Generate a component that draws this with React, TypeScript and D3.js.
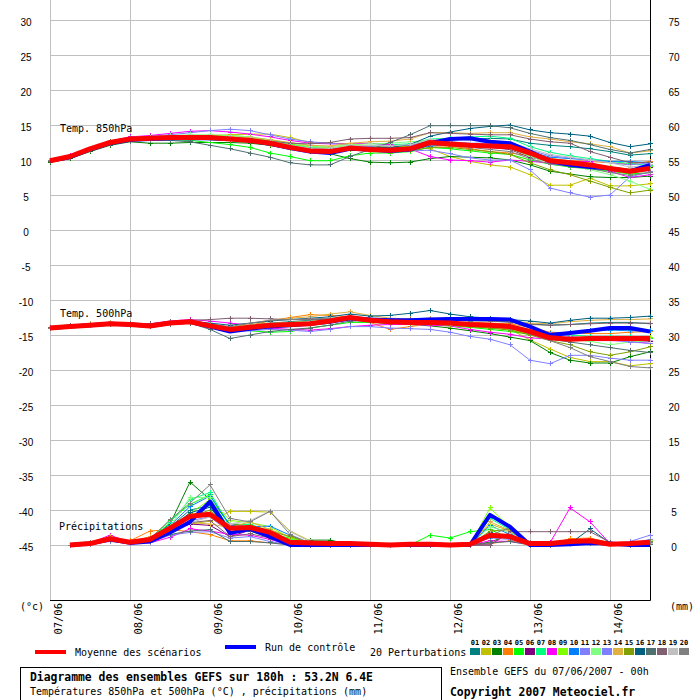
import * as d3 from 'd3'
import { useEffect, useRef } from 'react'

// dates on the time axis (one gridline every 24h)
const DAYS = ['07/06', '08/06', '09/06', '10/06', '11/06', '12/06', '13/06', '14/06']
const LEFT_TICKS = [30, 25, 20, 15, 10, 5, 0, -5, -10, -15, -20, -25, -30, -35, -40, -45]
const RIGHT_TICKS = [75, 70, 65, 60, 55, 50, 45, 40, 35, 30, 25, 20, 15, 10, 5, 0]
// forecast steps, hours
const HOURS = [0, 6, 12, 18, 24, 30, 36, 42, 48, 54, 60, 66, 72, 78, 84, 90, 96, 102, 108, 114, 120, 126, 132, 138, 144, 150, 156, 162, 168, 174, 180]

const MEMBER_COLORS = [
  '#008080', '#c0c000', '#008000', '#ff8000', '#00ff00', '#800080', '#00ff80', '#ff00ff', '#80ff00', '#0080ff',
  '#8080ff', '#80ff80', '#7f7fff', '#e0b040', '#80a000', '#006080', '#507070', '#806070', '#c0c0c0', '#808080',
]

// Temperature 850hPa (°C), 0h..180h
const T850_MEAN = [9.9, 10.5, 11.6, 12.5, 13.0, 13.1, 13.2, 13.2, 13.2, 13.0, 12.8, 12.4, 11.8, 11.3, 11.2, 11.7, 11.5, 11.4, 11.6, 12.5, 12.3, 12.1, 12.0, 11.9, 11.0, 9.9, 9.6, 9.3, 8.8, 8.4, 8.8]
const T850_CONTROL = [9.9, 10.4, 11.5, 12.4, 12.9, 13.0, 13.1, 13.1, 13.1, 13.0, 12.8, 12.3, 11.7, 11.2, 11.0, 11.6, 11.5, 11.3, 11.5, 12.4, 13.0, 13.1, 12.6, 12.4, 11.2, 9.8, 9.3, 9.0, 8.8, 8.4, 9.3]
const T850_MEMBERS = [
  [9.8, 10.3, 11.3, 12.3, 12.8, 13.0, 13.0, 13.0, 12.9, 12.8, 12.6, 12.2, 11.8, 11.4, 11.3, 11.8, 11.9, 11.8, 12.0, 12.8, 13.0, 13.0, 13.1, 13.0, 12.4, 12.1, 11.9, 11.6, 11.2, 10.7, 10.9],
  [9.9, 10.4, 11.4, 12.4, 12.9, 13.1, 13.3, 13.4, 13.5, 13.6, 13.7, 13.7, 13.2, 12.5, 12.4, 12.3, 12.0, 11.8, 11.9, 11.6, 10.5, 9.8, 9.3, 9.0, 7.9, 6.4, 6.4, 7.4, 6.3, 6.3, 6.6],
  [9.7, 10.2, 11.2, 12.1, 12.6, 12.4, 12.4, 12.5, 12.5, 12.5, 12.4, 12.1, 11.6, 11.2, 10.9, 10.2, 9.7, 9.6, 9.7, 10.2, 10.5, 10.4, 10.3, 10.0, 9.3, 8.4, 8.0, 7.6, 7.5, 7.5, 7.7],
  [9.9, 10.4, 11.5, 12.4, 12.9, 13.1, 13.2, 13.2, 13.1, 13.0, 12.8, 12.5, 12.0, 11.7, 11.6, 11.8, 11.7, 11.5, 11.6, 12.0, 12.0, 11.6, 11.2, 11.0, 10.6, 10.2, 9.9, 9.8, 9.6, 9.4, 9.8],
  [9.9, 10.4, 11.4, 12.3, 12.8, 12.9, 12.9, 12.8, 12.5, 12.2, 11.8, 11.0, 10.5, 9.9, 9.9, 10.6, 11.0, 11.0, 11.2, 11.8, 11.6, 11.3, 11.0, 10.8, 10.0, 9.4, 9.0, 8.7, 8.4, 8.0, 8.2],
  [9.9, 10.4, 11.4, 12.4, 12.9, 13.1, 13.2, 13.2, 13.2, 13.1, 12.9, 12.5, 12.0, 11.6, 11.5, 11.8, 11.8, 11.7, 11.8, 12.3, 12.3, 12.0, 11.8, 11.5, 10.4, 9.8, 9.5, 9.2, 8.8, 8.5, 8.9],
  [9.9, 10.4, 11.5, 12.5, 13.0, 13.2, 13.3, 13.4, 13.4, 13.3, 13.1, 12.7, 12.2, 11.8, 11.7, 12.0, 12.1, 12.2, 12.3, 13.0, 13.1, 13.3, 13.4, 13.1, 11.9, 11.1, 10.6, 10.2, 9.8, 9.5, 9.2],
  [10.0, 10.6, 11.7, 12.7, 13.3, 13.5, 13.8, 14.1, 14.2, 14.0, 13.7, 13.3, 12.8, 12.4, 12.3, 12.3, 12.4, 12.2, 11.6, 10.5, 10.0, 9.9, 9.7, 10.0, 9.8, 9.6, 9.8, 9.8, 8.4, 7.5, 7.9],
  [9.9, 10.5, 11.5, 12.5, 13.0, 13.2, 13.3, 13.4, 13.5, 13.5, 13.3, 12.8, 12.3, 11.9, 11.8, 12.0, 12.0, 11.9, 12.0, 12.4, 12.3, 12.1, 12.0, 11.6, 10.7, 10.0, 9.7, 9.5, 9.0, 8.7, 9.1],
  [9.9, 10.4, 11.5, 12.4, 13.0, 13.1, 13.2, 13.2, 13.1, 13.0, 12.8, 12.3, 11.8, 11.5, 11.5, 11.7, 11.6, 11.4, 11.5, 12.0, 12.2, 12.3, 12.3, 12.0, 11.2, 10.4, 10.2, 10.0, 9.8, 9.8, 9.6],
  [10.0, 10.5, 11.6, 12.6, 13.2, 13.4, 13.6, 13.9, 14.2, 14.4, 14.2, 13.6, 13.0, 12.6, 12.4, 12.1, 11.5, 11.1, 11.3, 11.4, 10.9, 10.3, 10.0, 10.0, 8.6, 6.0, 5.3, 4.7, 5.0, 7.6, 8.3],
  [9.9, 10.5, 11.6, 12.6, 13.1, 13.3, 13.5, 13.6, 13.6, 13.5, 13.3, 12.9, 12.4, 12.0, 11.9, 12.2, 12.3, 12.4, 12.6, 12.8, 12.6, 12.3, 12.0, 11.6, 10.5, 9.6, 9.2, 8.6, 7.9, 7.0, 5.8],
  [9.9, 10.4, 11.5, 12.5, 13.0, 13.1, 13.2, 13.3, 13.3, 13.2, 13.0, 12.6, 12.0, 11.6, 11.5, 11.9, 12.0, 12.0, 12.1, 12.6, 12.6, 12.4, 12.4, 12.2, 11.4, 10.6, 10.3, 10.0, 9.6, 9.3, 9.6],
  [9.9, 10.4, 11.5, 12.5, 13.0, 13.2, 13.3, 13.4, 13.4, 13.3, 13.2, 12.9, 12.5, 12.1, 12.0, 12.4, 12.6, 12.7, 13.0, 13.9, 13.9, 13.8, 13.9, 13.9, 13.3, 13.0, 12.6, 12.3, 11.9, 11.0, 11.3],
  [9.8, 10.3, 11.3, 12.3, 12.8, 13.0, 13.0, 13.0, 12.9, 12.8, 12.6, 12.2, 11.7, 11.3, 11.2, 11.5, 11.4, 11.2, 11.3, 11.8, 11.8, 11.5, 11.2, 10.8, 9.6, 8.6, 7.9, 7.0, 6.1, 5.3, 5.7],
  [9.8, 10.3, 11.4, 12.4, 12.9, 13.0, 13.1, 13.1, 13.0, 12.9, 12.7, 12.3, 11.8, 11.5, 11.4, 11.8, 11.8, 11.8, 12.2, 13.4, 14.0, 14.5, 14.8, 15.0, 14.3, 13.9, 13.7, 13.4, 12.5, 11.9, 12.3],
  [9.8, 10.3, 11.3, 12.2, 12.7, 12.8, 12.8, 12.6, 12.1, 11.6, 11.0, 10.4, 9.6, 9.3, 9.3, 10.5, 11.5, 12.5, 13.6, 14.9, 14.9, 14.9, 14.9, 14.6, 13.8, 13.2, 12.8, 12.2, 11.5, 11.0, 11.5],
  [9.9, 10.5, 11.6, 12.6, 13.1, 13.3, 13.4, 13.4, 13.3, 13.2, 13.0, 12.7, 12.4, 12.3, 12.5, 13.0, 13.1, 13.1, 13.2, 13.9, 13.8, 13.7, 13.6, 13.6, 13.0, 12.6, 12.4, 11.2, 10.4, 9.6, 9.7],
  [9.9, 10.4, 11.5, 12.5, 13.0, 13.2, 13.3, 13.3, 13.3, 13.2, 13.0, 12.6, 12.1, 11.7, 11.7, 12.0, 12.1, 12.0, 12.2, 12.9, 13.0, 12.8, 12.7, 12.5, 11.6, 10.8, 10.4, 10.0, 9.6, 9.0, 9.3],
  [9.9, 10.4, 11.4, 12.4, 12.9, 13.0, 13.1, 13.1, 13.0, 12.9, 12.7, 12.4, 11.9, 11.5, 11.4, 11.7, 11.7, 11.6, 11.7, 12.2, 12.1, 11.8, 11.5, 11.2, 10.2, 9.4, 9.1, 8.8, 8.2, 7.8, 8.2],
]

// Temperature 500hPa (°C), 0h..180h
const T500_MEAN = [-14.0, -13.8, -13.6, -13.4, -13.5, -13.7, -13.3, -13.1, -13.7, -14.2, -13.9, -13.6, -13.5, -13.4, -13.0, -12.5, -12.9, -13.1, -13.2, -13.2, -13.3, -13.5, -13.6, -13.8, -14.5, -15.4, -15.6, -15.5, -15.5, -15.5, -15.5]
const T500_CONTROL = [-14.0, -13.8, -13.6, -13.4, -13.5, -13.7, -13.3, -13.1, -13.8, -14.5, -14.1, -13.8, -13.6, -13.4, -13.1, -12.6, -12.8, -12.9, -12.9, -12.8, -12.7, -12.7, -12.7, -12.8, -13.8, -15.0, -14.7, -14.4, -14.0, -14.0, -14.5]
const T500_MEMBERS = [
  [-14.0, -13.8, -13.6, -13.4, -13.4, -13.6, -13.3, -13.1, -13.4, -13.9, -13.6, -13.3, -13.1, -12.9, -12.7, -12.4, -12.6, -12.8, -12.8, -12.6, -12.8, -12.9, -13.0, -13.1, -13.4, -13.6, -13.5, -13.3, -13.2, -13.2, -13.4],
  [-14.0, -13.8, -13.5, -13.4, -13.5, -13.6, -13.2, -13.0, -13.5, -14.0, -13.8, -13.5, -13.3, -13.2, -13.0, -12.6, -12.8, -13.0, -13.1, -13.2, -13.4, -13.6, -13.8, -14.2, -15.7, -17.0, -18.2, -18.8, -18.8, -19.4, -19.1],
  [-14.0, -13.8, -13.6, -13.4, -13.6, -13.8, -13.4, -13.2, -13.8, -14.4, -14.0, -13.8, -13.6, -13.4, -13.2, -12.8, -13.1, -13.4, -13.5, -13.7, -14.0, -14.4, -14.8, -15.3, -15.8, -17.5, -18.6, -19.0, -19.0, -18.1, -17.4],
  [-14.0, -13.8, -13.6, -13.4, -13.5, -13.7, -13.3, -13.1, -13.6, -14.0, -13.6, -13.0, -12.5, -12.1, -12.2, -12.4, -13.2, -14.2, -13.8, -13.4, -13.2, -13.2, -13.3, -13.4, -13.9, -14.6, -14.7, -14.8, -14.8, -14.6, -14.5],
  [-14.0, -13.8, -13.6, -13.5, -13.6, -13.8, -13.4, -13.2, -13.7, -14.2, -14.4, -14.6, -14.5, -14.0, -13.6, -13.2, -13.2, -13.3, -13.4, -13.5, -13.7, -13.9, -14.2, -14.5, -14.9, -15.3, -15.5, -15.6, -15.7, -15.8, -15.5],
  [-14.0, -13.8, -13.6, -13.4, -13.5, -13.7, -13.3, -13.1, -13.6, -14.1, -13.8, -13.5, -13.4, -13.3, -13.0, -12.6, -12.9, -13.1, -13.2, -13.3, -13.4, -13.6, -13.8, -14.0, -14.6, -15.3, -15.5, -15.6, -15.7, -15.8, -15.9],
  [-14.0, -13.8, -13.5, -13.4, -13.5, -13.6, -13.2, -13.0, -13.5, -14.0, -13.7, -13.4, -13.3, -13.2, -12.9, -12.5, -12.7, -12.9, -13.0, -13.1, -13.2, -13.4, -13.5, -13.7, -14.3, -14.8, -15.0, -15.2, -15.2, -15.2, -15.3],
  [-14.0, -13.8, -13.5, -13.3, -13.3, -13.4, -13.0, -12.8, -13.0, -13.3, -13.6, -14.0, -14.2, -14.3, -14.1, -13.8, -13.6, -13.5, -13.5, -13.6, -13.7, -14.2, -14.6, -14.9, -15.4, -15.6, -15.7, -15.8, -15.8, -15.9, -16.2],
  [-14.0, -13.8, -13.6, -13.4, -13.5, -13.7, -13.3, -13.1, -13.6, -14.1, -13.9, -13.6, -13.4, -13.2, -13.0, -12.7, -12.9, -13.1, -13.2, -13.4, -13.6, -13.8, -14.0, -14.3, -14.8, -15.2, -15.4, -15.5, -15.6, -15.6, -15.4],
  [-14.0, -13.8, -13.6, -13.4, -13.5, -13.7, -13.3, -13.1, -13.7, -14.3, -14.0, -13.7, -13.5, -13.3, -13.1, -12.8, -12.9, -13.0, -13.1, -13.2, -13.4, -13.5, -13.6, -13.8, -14.5, -14.8, -14.6, -14.4, -14.3, -14.4, -14.4],
  [-14.0, -13.8, -13.6, -13.4, -13.5, -13.7, -13.4, -13.2, -13.8, -14.4, -14.4, -14.2, -14.3, -14.5, -14.2, -13.8, -13.8, -14.0, -14.1, -14.2, -14.6, -15.2, -15.6, -16.4, -18.6, -19.1, -17.9, -17.9, -18.3, -18.6, -18.6],
  [-14.0, -13.8, -13.6, -13.4, -13.5, -13.6, -13.2, -13.0, -13.5, -13.9, -13.6, -13.3, -13.2, -13.0, -12.8, -12.4, -12.7, -12.9, -13.0, -13.1, -13.3, -13.4, -13.6, -13.9, -14.6, -15.3, -15.6, -15.9, -16.4, -16.0, -15.8],
  [-14.0, -13.8, -13.6, -13.4, -13.5, -13.7, -13.3, -13.1, -13.7, -14.2, -14.0, -13.7, -13.6, -13.4, -13.2, -12.9, -13.0, -13.2, -13.3, -13.3, -13.4, -13.6, -13.8, -14.0, -14.5, -14.9, -15.2, -15.5, -15.7, -16.0, -16.2],
  [-13.9, -13.6, -13.4, -13.2, -13.3, -13.5, -13.2, -13.0, -13.4, -13.9, -13.4, -12.9, -12.6, -12.4, -12.0, -11.7, -12.2, -12.6, -12.7, -12.6, -12.6, -12.6, -12.8, -13.0, -13.3, -13.4, -13.1, -12.9, -12.8, -12.8, -12.7],
  [-14.0, -13.8, -13.6, -13.4, -13.5, -13.7, -13.3, -13.1, -13.6, -14.1, -13.9, -13.6, -13.5, -13.3, -13.1, -12.8, -13.0, -13.2, -13.3, -13.4, -13.6, -13.8, -14.0, -14.3, -15.0, -15.8, -16.4, -17.4, -17.9, -17.4, -16.7],
  [-14.0, -13.8, -13.6, -13.4, -13.4, -13.6, -13.2, -13.0, -13.3, -13.6, -13.3, -13.0, -12.8, -12.6, -12.4, -12.0, -12.3, -12.2, -11.9, -11.5, -12.0, -12.4, -12.6, -12.8, -13.0, -13.3, -12.9, -12.6, -12.6, -12.5, -12.3],
  [-14.0, -13.8, -13.6, -13.5, -13.6, -13.8, -13.5, -13.3, -14.2, -15.5, -15.0, -14.5, -14.2, -14.0, -13.6, -13.0, -13.0, -13.1, -13.2, -13.2, -13.3, -13.4, -13.5, -13.7, -14.6, -15.6, -16.0, -16.4, -16.8, -17.2, -17.5],
  [-13.9, -13.7, -13.5, -13.3, -13.3, -13.4, -13.1, -12.9, -12.8, -12.6, -12.6, -12.7, -12.8, -12.8, -12.7, -12.5, -12.6, -12.7, -12.8, -12.8, -12.9, -13.0, -13.0, -13.2, -13.5, -13.6, -13.5, -13.4, -13.3, -13.3, -13.3],
  [-14.0, -13.8, -13.6, -13.4, -13.5, -13.7, -13.3, -13.1, -13.6, -14.0, -13.7, -13.4, -13.3, -13.1, -12.9, -12.6, -12.8, -13.0, -13.1, -13.2, -13.4, -13.5, -13.7, -14.0, -14.7, -15.3, -15.4, -15.5, -15.6, -15.7, -15.8],
  [-14.0, -13.8, -13.6, -13.4, -13.5, -13.7, -13.3, -13.1, -13.5, -13.8, -13.3, -12.9, -12.8, -12.7, -12.6, -12.4, -12.6, -12.8, -12.9, -13.0, -13.2, -13.4, -13.6, -14.0, -14.8, -15.8, -16.8, -18.1, -18.8, -19.5, -19.7],
]

// Precipitation (mm), 6h..180h
const PRECIP_MEAN = [0.0, 0.2, 0.9, 0.4, 0.8, 2.4, 4.1, 4.4, 2.4, 2.5, 1.8, 0.4, 0.3, 0.2, 0.2, 0.1, 0.0, 0.1, 0.1, 0.0, 0.1, 1.4, 1.2, 0.2, 0.2, 0.5, 0.6, 0.1, 0.2, 0.4]
const PRECIP_CONTROL = [0.0, 0.2, 0.8, 0.3, 0.5, 1.8, 3.3, 6.2, 1.7, 2.3, 1.2, 0.0, 0.0, 0.0, 0.0, 0.0, 0.0, 0.0, 0.0, 0.0, 0.0, 4.3, 2.6, 0.0, 0.0, 0.1, 0.3, 0.2, 0.0, 0.0]
const PRECIP_MEMBERS = [
  [0, 0.2, 0.8, 0.3, 0.6, 2.6, 5.0, 5.6, 1.5, 2.8, 1.5, 0.3, 0.1, 0.1, 0, 0, 0, 0, 0, 0, 0, 1.8, 1.0, 0, 0, 0.2, 0.4, 0.3, 0.1, 0.3],
  [0, 0.2, 0.9, 0.3, 0.5, 1.8, 3.0, 3.4, 4.8, 4.8, 4.7, 2.0, 0.6, 0.2, 0.1, 0, 0, 0, 0, 0, 0, 3.0, 2.0, 0.3, 0.1, 0.2, 0.4, 0.4, 0.1, 0.2],
  [0, 0.2, 0.7, 0.4, 0.9, 3.0, 9.0, 6.5, 3.0, 2.9, 1.7, 0.3, 0.7, 0.7, 0.1, 0, 0, 0, 0, 0, 0, 0.4, 1.5, 0.3, 0, 0.2, 0.4, 0.2, 0, 0.3],
  [0, 0.4, 0.6, 0.6, 2.0, 2.2, 1.9, 1.5, 0.6, 0.6, 0.3, 0.1, 0, 0, 0, 0, 0, 0, 0, 0, 0, 0.2, 0.6, 0.2, 0.1, 0.9, 1.0, 0.3, 0, 0.2],
  [0, 0.2, 0.9, 0.4, 0.8, 3.5, 5.8, 7.2, 2.6, 3.0, 1.5, 1.0, 0.3, 0.1, 0, 0, 0, 0, 1.4, 1.0, 1.9, 2.2, 1.0, 0.2, 0.1, 0.2, 0.3, 0.1, 0, 0.3],
  [0, 0.2, 0.8, 0.3, 0.6, 2.0, 3.0, 2.8, 1.2, 2.1, 1.2, 0.2, 0, 0, 0, 0, 0, 0, 0, 0, 0, 0, 1.8, 0.3, 0, 0.1, 0.2, 0.1, 0, 0.2],
  [0, 0.2, 0.9, 0.4, 0.7, 3.2, 6.5, 7.5, 2.7, 3.0, 1.9, 0.8, 0.2, 0.1, 0, 0, 0, 0, 0, 0, 0, 3.8, 2.2, 0.2, 0, 0.2, 0.3, 0.2, 0, 0.4],
  [0, 0.3, 1.4, 0.4, 0.3, 1.1, 2.3, 2.0, 1.5, 1.4, 0.8, 0, 0, 0, 0, 0, 0, 0, 0, 0, 0, 0.6, 0.5, 0.1, 0.3, 5.3, 3.3, 0.2, 0.1, 0.2],
  [0, 0.2, 0.8, 0.3, 0.6, 2.3, 4.5, 6.5, 3.5, 3.2, 2.6, 1.0, 0.1, 0, 0, 0, 0, 0, 0, 0, 0, 5.3, 2.5, 0.3, 0.1, 0.2, 0.3, 0.1, 0, 0.3],
  [0, 0.2, 0.9, 0.4, 0.8, 2.8, 5.5, 7.0, 2.8, 2.6, 2.7, 1.4, 0.2, 0, 0, 0, 0, 0, 0, 0, 0, 2.8, 1.5, 0.1, 0, 0.2, 0.5, 0.3, 0.1, 0.5],
  [0, 0.1, 0.5, 0.2, 0.4, 1.4, 1.8, 1.9, 1.0, 1.2, 0.5, 0, 0, 0, 0, 0, 0, 0, 0, 0, 0, 1.0, 0.8, 0.1, 0, 0.1, 0.2, 0.1, 0.5, 1.4],
  [0, 0.2, 0.8, 0.4, 0.8, 2.6, 6.8, 6.8, 2.2, 2.6, 2.3, 0.6, 0.2, 0, 0, 0, 0, 0, 0, 0, 0, 2.6, 1.8, 0.2, 0, 0.2, 0.3, 0.2, 0, 0.6],
  [0, 0.2, 0.7, 0.3, 0.6, 2.0, 3.5, 4.0, 1.8, 2.0, 1.3, 0.3, 0, 0, 0, 0, 0, 0, 0, 0, 0, 1.5, 1.3, 0.1, 0, 0.1, 0.3, 0.2, 0.2, 0.8],
  [0, 0.4, 1.2, 0.4, 1.2, 2.1, 3.2, 3.0, 2.5, 3.3, 2.2, 1.2, 0.3, 0.2, 0, 0, 0, 0, 0, 0, 0, 3.3, 2.1, 0.2, 0.1, 0.1, 0.2, 0.1, 0, 0.3],
  [0, 0.2, 0.9, 0.3, 0.5, 2.1, 4.0, 5.0, 2.3, 2.8, 2.0, 1.2, 0.3, 0.1, 0, 0, 0, 0, 0, 0, 0, 2.0, 2.2, 0.4, 0.1, 0.2, 0.4, 0.2, 0, 0.5],
  [0, 0.2, 0.8, 0.3, 0.6, 2.4, 4.6, 5.4, 1.8, 2.0, 1.0, 0.2, 0, 0, 0, 0, 0, 0, 0, 0, 0, 1.2, 1.0, 0.1, 0, 0.2, 2.3, 0.3, 0, 0.2],
  [0, 0.2, 0.7, 0.3, 0.5, 1.5, 2.0, 2.2, 0.5, 0.5, 0.3, 0, 0, 0, 0, 0, 0, 0, 0, 0, 0, 0.3, 0.5, 0, 0, 0.1, 0.2, 0.1, 0, 0.1],
  [0, 0.2, 0.8, 0.3, 0.6, 2.2, 3.2, 3.5, 1.2, 1.6, 1.0, 0.3, 0, 0, 0, 0, 0, 0, 0, 0, 0, 0, 1.9, 1.9, 1.9, 1.9, 1.9, 0.4, 0, 0.2],
  [0, 0.3, 1.0, 0.3, 1.0, 2.4, 3.2, 4.0, 3.0, 3.5, 4.8, 1.9, 0.5, 0.2, 0, 0, 0, 0, 0, 0, 0, 1.6, 1.3, 0.2, 0, 0.1, 0.3, 0.1, 0, 0.2],
  [0, 0.3, 1.0, 0.4, 0.9, 3.6, 6.0, 8.6, 3.8, 3.3, 4.8, 1.5, 0.3, 0.1, 0, 0, 0, 0, 0, 0, 0, 1.4, 2.5, 0.3, 0, 0.2, 0.4, 0.2, 0, 0.3],
]

const MONO = '"DejaVu Sans Mono", monospace'

export default function App() {
  const ref = useRef<SVGSVGElement>(null)

  useEffect(() => {
    if (!ref.current) return
    const svg = d3.select(ref.current)
    svg.selectAll('*').remove()

    const x = d3.scaleLinear().domain([0, 180]).range([50, 650])
    const y = d3.scaleLinear().domain([30, -45]).range([20, 545])
    const yMm = d3.scaleLinear().domain([75, 0]).range([20, 545])

    svg.append('rect').attr('width', 700).attr('height', 700).attr('fill', 'white')

    // grid
    const grid = svg.append('g').attr('stroke', '#c0c0c0').attr('shape-rendering', 'crispEdges')
    LEFT_TICKS.forEach((t) => {
      grid.append('line').attr('x1', 50).attr('x2', 650).attr('y1', y(t)).attr('y2', y(t))
    })
    DAYS.forEach((_, i) => {
      grid.append('line').attr('x1', x(i * 24)).attr('x2', x(i * 24)).attr('y1', 0).attr('y2', 600)
    })
    svg.append('path').attr('d', 'M50,600.5H650.5V0').attr('fill', 'none').attr('stroke', 'black')

    // tick labels
    const tickFont = '"Liberation Sans", sans-serif'
    svg
      .append('g')
      .selectAll('text')
      .data(LEFT_TICKS)
      .join('text')
      .attr('x', 26)
      .attr('y', (d) => y(d) + 6)
      .attr('text-anchor', 'middle')
      .attr('font-family', tickFont)
      .attr('font-size', 10)
      .text((d) => d)
    svg
      .append('g')
      .selectAll('text')
      .data(RIGHT_TICKS)
      .join('text')
      .attr('x', 674)
      .attr('y', (d) => yMm(d) + 6)
      .attr('text-anchor', 'middle')
      .attr('font-family', tickFont)
      .attr('font-size', 10)
      .text((d) => d)

    svg
      .append('g')
      .selectAll('text')
      .data(DAYS)
      .join('text')
      .attr('transform', (_, i) => `translate(${x(i * 24) + 12},603) rotate(-90)`)
      .attr('text-anchor', 'end')
      .attr('font-family', MONO)
      .attr('font-size', 10.5)
      .text((d) => d)
    svg.append('text').attr('x', 20).attr('y', 610).attr('font-family', MONO).attr('font-size', 10).text('(°c)')
    svg.append('text').attr('x', 670).attr('y', 610).attr('font-family', MONO).attr('font-size', 10).text('(mm)')

    const plus = (px: number, py: number) => `M${px - 2},${py}h5M${px + 0.5},${py - 2.5}v5`

    const drawSeries = (
      values: number[],
      offset: number,
      scale: d3.ScaleLinear<number, number>,
      color: string,
      width: number,
      markers: boolean,
    ) => {
      const pts: [number, number][] = values.map((v, i) => [x(HOURS[i + offset]), scale(v)])
      const g = svg.append('g')
      g.append('path')
        .attr('d', d3.line()(pts))
        .attr('fill', 'none')
        .attr('stroke', color)
        .attr('stroke-width', width)
        .attr('stroke-linejoin', 'round')
      if (markers) {
        g.append('path')
          .attr('d', pts.map(([px, py]) => plus(px, py)).join(''))
          .attr('stroke', color)
          .attr('stroke-width', 1)
          .attr('shape-rendering', 'crispEdges')
      }
    }

    T850_MEMBERS.forEach((m, i) => drawSeries(m, 0, y, MEMBER_COLORS[i], 1, true))
    T500_MEMBERS.forEach((m, i) => drawSeries(m, 0, y, MEMBER_COLORS[i], 1, true))
    PRECIP_MEMBERS.forEach((m, i) => drawSeries(m, 1, yMm, MEMBER_COLORS[i], 1, true))

    drawSeries(T850_CONTROL, 0, y, '#0000ff', 4, false)
    drawSeries(T500_CONTROL, 0, y, '#0000ff', 4, false)
    drawSeries(PRECIP_CONTROL, 1, yMm, '#0000ff', 4, false)
    drawSeries(T850_MEAN, 0, y, '#ff0000', 5, false)
    drawSeries(T500_MEAN, 0, y, '#ff0000', 5, false)
    drawSeries(PRECIP_MEAN, 1, yMm, '#ff0000', 5, false)

    // block labels
    const labels: [string, number, number][] = [
      ['Temp. 850hPa', 60, 132],
      ['Temp. 500hPa', 60, 317],
      ['Précipitations', 59, 530],
    ]
    labels.forEach(([t, lx, ly]) => {
      svg.append('text').attr('x', lx).attr('y', ly).attr('font-family', MONO).attr('font-size', 10).text(t)
    })

    // legend
    svg.append('rect').attr('x', 35).attr('y', 650).attr('width', 31).attr('height', 4).attr('fill', '#ff0000')
    svg.append('text').attr('x', 75).attr('y', 656).attr('font-family', MONO).attr('font-size', 10).text('Moyenne des scénarios')
    svg.append('rect').attr('x', 225).attr('y', 645).attr('width', 31).attr('height', 4).attr('fill', '#0000ff')
    svg.append('text').attr('x', 265).attr('y', 651).attr('font-family', MONO).attr('font-size', 10).text('Run de contrôle')
    svg.append('text').attr('x', 370).attr('y', 656).attr('font-family', MONO).attr('font-size', 10).text('20 Perturbations')
    MEMBER_COLORS.forEach((c, i) => {
      const sx = 470 + i * 11
      svg.append('rect').attr('x', sx).attr('y', 648).attr('width', 10).attr('height', 7).attr('fill', c)
      svg
        .append('text')
        .attr('x', sx + 5)
        .attr('y', 645)
        .attr('text-anchor', 'middle')
        .attr('font-family', MONO)
        .attr('font-size', 7)
        .attr('font-weight', 'bold')
        .text(String(i + 1).padStart(2, '0'))
    })

    // title block
    svg.append('rect').attr('x', 20.5).attr('y', 667.5).attr('width', 421).attr('height', 40).attr('fill', 'none').attr('stroke', 'black')
    svg
      .append('text')
      .attr('x', 30)
      .attr('y', 681)
      .attr('font-family', MONO)
      .attr('font-size', 11.4)
      .attr('font-weight', 'bold')
      .text('Diagramme des ensembles GEFS sur 180h : 53.2N 6.4E')
    svg
      .append('text')
      .attr('x', 30)
      .attr('y', 695)
      .attr('font-family', MONO)
      .attr('font-size', 10)
      .text('Températures 850hPa et 500hPa (°C) , précipitations (mm)')
    svg.append('text').attr('x', 450).attr('y', 675).attr('font-family', MONO).attr('font-size', 10).text('Ensemble GEFS du 07/06/2007 - 00h')
    svg
      .append('text')
      .attr('x', 450)
      .attr('y', 696)
      .attr('font-family', MONO)
      .attr('font-size', 11.4)
      .attr('font-weight', 'bold')
      .text('Copyright 2007 Meteociel.fr')
  }, [])

  return <svg ref={ref} width={700} height={700} style={{ position: 'absolute', left: 0, top: 0, display: 'block' }} />
}
